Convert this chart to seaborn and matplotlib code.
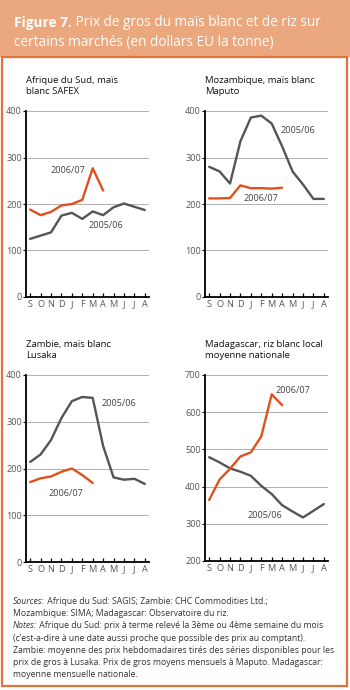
import pandas as pd
import matplotlib.pyplot as plt
import seaborn as sns
from matplotlib.patches import Rectangle

sns.set_theme(style="white")
plt.rcParams["font.family"] = ["Open Sans", "DejaVu Sans"]

W, H = 350, 690
ORANGE = "#E0501B"
GREY = "#555555"
FRAME = "#E4713A"
HEADER = "#EBA77D"
TXT = "#333333"

months = ["S", "O", "N", "D", "J", "F", "M", "A", "M", "J", "J", "A"]

# Afrique du Sud, SAFEX
sa_0506 = [125, 132, 139, 175, 181, 168, 184, 176, 193, 201, 194, 187]
sa_0607 = [188, 176, 183, 197, 200, 209, 277, 229]
# Mozambique, Maputo
moz_0506 = [280, 270, 244, 335, 386, 390, 373, 324, 270, 242, 211, 211]
moz_0607 = [212, 212, 213, 240, 234, 234, 233, 235]
# Zambie, Lusaka
zam_0506 = [214, 230, 261, 308, 344, 353, 351, 248, 181, 176, 178, 167]
zam_0607 = [171, 179, 183, 193, 200, 186, 169]
# Madagascar, moyenne nationale
mad_0506 = [479, 465, 449, 440, 429, 402, 380, 350, 333, 317, 335, 353]
mad_0607 = [364, 419, 448, 481, 492, 535, 648, 619]

panels = [
    dict(title="Afrique du Sud, maïs\nblanc SAFEX", s1=sa_0506, s2=sa_0607,
         ylim=(0, 400), yticks=[0, 100, 200, 300, 400],
         lab1=(7.3, 154), lab2=(3.6, 272), box=(26, 111, 297)),
    dict(title="Mozambique, maïs blanc\nMaputo", s1=moz_0506, s2=moz_0607,
         ylim=(0, 400), yticks=[0, 100, 200, 300, 400],
         lab1=(8.5, 357), lab2=(5.0, 211), box=(205, 111, 297)),
    dict(title="Zambie, maïs blanc\nLusaka", s1=zam_0506, s2=zam_0607,
         ylim=(0, 400), yticks=[0, 100, 200, 300, 400],
         lab1=(8.5, 340), lab2=(3.4, 146), box=(26, 375, 562)),
    dict(title="Madagascar, riz blanc local\nmoyenne nationale", s1=mad_0506, s2=mad_0607,
         ylim=(200, 700), yticks=[200, 300, 400, 500, 600, 700],
         lab1=(5.3, 322), lab2=(8.0, 658), box=(205, 375, 561)),
]

fig = plt.figure(figsize=(W / 100, H / 100), dpi=100)
fig.patch.set_facecolor("white")

for p in panels:
    x0, ytop, ybot = p["box"]
    ax = fig.add_axes([x0 / W, 1 - ybot / H, 123 / W, (ybot - ytop) / H])
    n1, n2 = len(p["s1"]), len(p["s2"])
    df = pd.DataFrame({
        "idx": list(range(n1)) + list(range(n2)),
        "prix": p["s1"] + p["s2"],
        "saison": ["2005/06"] * n1 + ["2006/07"] * n2,
    })
    sns.lineplot(data=df, x="idx", y="prix", hue="saison", ax=ax,
                 palette={"2005/06": GREY, "2006/07": ORANGE},
                 linewidth=1.7, legend=False)
    ax.set_xlim(-0.4, 11.4)
    ax.set_ylim(*p["ylim"])
    ax.set_yticks(p["yticks"])
    ax.set_xticks(range(12))
    ax.set_xticklabels(months)
    ax.set_xlabel("")
    ax.set_ylabel("")
    ax.yaxis.grid(True, color="#b0b0b0", linewidth=0.7)
    ax.set_axisbelow(True)
    for s in ["top", "right"]:
        ax.spines[s].set_visible(False)
    for s in ["left", "bottom"]:
        ax.spines[s].set_color("black")
        ax.spines[s].set_linewidth(1.3)
    ax.tick_params(axis="y", length=2, width=0.8, color="black", pad=1,
                   labelsize=6.6, labelcolor="#555555", left=True)
    ax.tick_params(axis="x", direction="in", length=3, width=0.9, color="black",
                   pad=2, labelsize=6.6, labelcolor="#555555", bottom=True)
    ax.text(*p["lab1"], "2005/06", fontsize=6.6, color="#444444", ha="center", va="center")
    ax.text(*p["lab2"], "2006/07", fontsize=6.6, color="#444444", ha="center", va="center")
    fig.text(x0 / W, 1 - (ytop - 35) / H, p["title"], fontsize=6.8, color="#111111",
             va="top", ha="left", linespacing=1.25)

# overlay axes for header band, frame and text blocks
bg = fig.add_axes([0, 0, 1, 1], facecolor="none")
bg.set_axis_off()
bg.set_xlim(0, 1)
bg.set_ylim(0, 1)
bg.add_patch(Rectangle((0, 1 - 57 / H), 1, 57 / H, facecolor=HEADER,
                       edgecolor="none", zorder=0, clip_on=False))
bg.add_patch(Rectangle((2 / W, 1 - 686 / H), 345 / W, (686 - 57) / H,
                       facecolor="none", edgecolor=FRAME, linewidth=1.6,
                       zorder=1, clip_on=False))

t = bg.text(14 / W, 1 - 27 / H, "Figure 7.", color="white", fontsize=9.8,
            fontweight="bold", va="baseline", zorder=3)
bg.annotate(" Prix de gros du maïs blanc et de riz sur", xy=(1, 0), xycoords=t,
            color="white", fontsize=9.8, va="bottom", zorder=3)
bg.text(14 / W, 1 - 46 / H, "certains marchés (en dollars EU la tonne)",
        color="white", fontsize=9.8, va="baseline", zorder=3)

notes = [
    ("Sources:", " Afrique du Sud: SAGIS; Zambie: CHC Commodities Ltd.;"),
    ("", "Mozambique: SIMA; Madagascar: Observatoire du riz."),
    ("Notes:", " Afrique du Sud: prix à terme relevé la 3ème ou 4ème semaine du mois"),
    ("", "(c’est-a-dire à une date aussi proche que possible des prix au comptant)."),
    ("", "Zambie: moyenne des prix hebdomadaires tirés des séries disponibles pour les"),
    ("", "prix de gros à Lusaka. Prix de gros moyens mensuels à Maputo. Madagascar:"),
    ("", "moyenne mensuelle nationale."),
]
for i, (it, rest) in enumerate(notes):
    y = 1 - (604 + i * 12.2) / H
    if it:
        t = bg.text(13 / W, y, it, fontsize=6.2, style="italic", color=TXT, va="baseline")
        bg.annotate(rest, xy=(1, 0), xycoords=t, fontsize=6.2, color=TXT, va="bottom")
    else:
        bg.text(13 / W, y, rest, fontsize=6.2, color=TXT, va="baseline")

fig.savefig("out.png", dpi=100)
